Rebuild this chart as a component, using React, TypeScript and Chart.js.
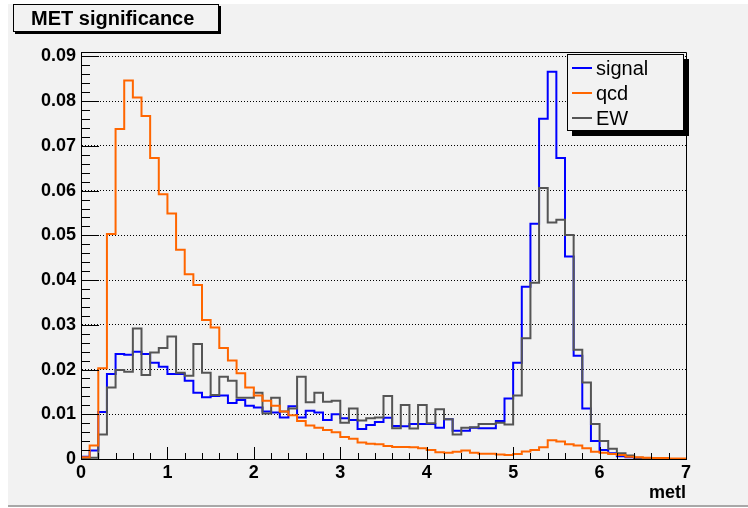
import React, { useEffect, useRef } from 'react';
import { Chart, registerables } from 'chart.js';

Chart.register(...registerables);

const binWidth = 0.1;
const xMin = 0;
const xMax = 7;
const yMax = 0.091;

const signal = [
  0.0005, 0.0019, 0.0105, 0.0190, 0.0235, 0.0233, 0.0240, 0.0235, 0.0215, 0.0206,
  0.0190, 0.0190, 0.0175, 0.0148, 0.0138, 0.0141, 0.0142, 0.0125, 0.0132, 0.0119,
  0.0115, 0.0106, 0.0104, 0.0093, 0.0118, 0.0093, 0.0108, 0.0104, 0.0087, 0.0100,
  0.0091, 0.0087, 0.0067, 0.0076, 0.0083, 0.0092, 0.0074, 0.0073, 0.0078, 0.0078,
  0.0078, 0.0070, 0.0089, 0.0063, 0.0063, 0.0070, 0.0069, 0.0069, 0.0085, 0.0135,
  0.0215, 0.0385, 0.0526, 0.0761, 0.0866, 0.0673, 0.0453, 0.0231, 0.0113, 0.0040,
  0.0020, 0.0013, 0.0006, 0.0004, 0.0002, 0.0001, 0.0001, 0.0000, 0.0000, 0.0000,
];

const qcd = [
  0.0004, 0.0030, 0.0203, 0.0503, 0.0738, 0.0846, 0.0808, 0.0767, 0.0673, 0.0592,
  0.0549, 0.0468, 0.0413, 0.0389, 0.0311, 0.0294, 0.0248, 0.0220, 0.0192, 0.0160,
  0.0142, 0.0130, 0.0119, 0.0106, 0.0098, 0.0085, 0.0075, 0.0070, 0.0065, 0.0060,
  0.0049, 0.0045, 0.0037, 0.0034, 0.0033, 0.0029, 0.0027, 0.0027, 0.0026, 0.0024,
  0.0020, 0.0015, 0.0014, 0.0016, 0.0019, 0.0014, 0.0012, 0.0012, 0.0010, 0.0009,
  0.0011, 0.0017, 0.0020, 0.0026, 0.0042, 0.0039, 0.0033, 0.0030, 0.0024, 0.0016,
  0.0014, 0.0011, 0.0009, 0.0005, 0.0004, 0.0003, 0.0002, 0.0002, 0.0001, 0.0001,
];

const ew = [
  0.0000, 0.0003, 0.0055, 0.0160, 0.0199, 0.0195, 0.0292, 0.0188, 0.0238, 0.0248,
  0.0274, 0.0193, 0.0186, 0.0257, 0.0193, 0.0143, 0.0184, 0.0175, 0.0137, 0.0137,
  0.0148, 0.0102, 0.0137, 0.0106, 0.0113, 0.0184, 0.0127, 0.0148, 0.0128, 0.0130,
  0.0081, 0.0113, 0.0086, 0.0091, 0.0093, 0.0141, 0.0069, 0.0121, 0.0068, 0.0121,
  0.0080, 0.0111, 0.0089, 0.0055, 0.0070, 0.0071, 0.0078, 0.0078, 0.0081, 0.0077,
  0.0142, 0.0270, 0.0394, 0.0606, 0.0529, 0.0535, 0.0501, 0.0244, 0.0171, 0.0078,
  0.0040, 0.0023, 0.0013, 0.0008, 0.0003, 0.0002, 0.0001, 0.0000, 0.0000, 0.0000,
];

const seriesNames = ['signal', 'qcd', 'EW'];
const seriesColors = ['#0000ff', '#ff6600', '#555555'];
const xTickLabels = ['0', '1', '2', '3', '4', '5', '6', '7'];
const yTickLabels = ['0', '0.01', '0.02', '0.03', '0.04', '0.05', '0.06', '0.07', '0.08', '0.09'];
const titleText = 'MET significance';
const xAxisTitle = 'metl';

const FONT = '"Liberation Sans", Arial, Helvetica, sans-serif';
const PANEL = '#f2f2f2';

function toSteps(values: number[]) {
  const pts = values.map((v, i) => ({ x: +(xMin + i * binWidth).toFixed(3), y: v }));
  pts.push({ x: +(xMin + values.length * binWidth).toFixed(3), y: values[values.length - 1] });
  return pts;
}

const rootAxesPlugin = {
  id: 'rootAxes',
  afterDraw(chart: any) {
    const { ctx, chartArea, scales } = chart;
    const { left, right, top, bottom } = chartArea;
    ctx.save();
    ctx.strokeStyle = '#000';
    ctx.lineWidth = 1;
    ctx.beginPath();
    for (let k = 0; k * 0.002 <= yMax + 1e-9; k++) {
      const y = Math.round(scales.y.getPixelForValue(k * 0.002)) + 0.5;
      const len = k % 5 === 0 ? 18 : 9;
      ctx.moveTo(left, y);
      ctx.lineTo(left + len, y);
    }
    for (let k = 0; k * 0.2 <= xMax + 1e-9; k++) {
      const x = Math.round(scales.x.getPixelForValue(k * 0.2)) + 0.5;
      const len = k % 5 === 0 ? 12 : 6;
      ctx.moveTo(x, bottom);
      ctx.lineTo(x, bottom - len);
    }
    ctx.moveTo(left, Math.round(top) + 0.5);
    ctx.lineTo(Math.round(right) + 0.5, Math.round(top) + 0.5);
    ctx.lineTo(Math.round(right) + 0.5, bottom);
    ctx.stroke();
    ctx.restore();
  },
};

export default function App() {
  const canvasRef = useRef<HTMLCanvasElement | null>(null);

  useEffect(() => {
    if (!canvasRef.current) return;
    const series = [signal, qcd, ew];
    const drawOrder = [2, 0, 1];
    const chart = new Chart(canvasRef.current, {
      type: 'line',
      data: {
        datasets: series.map((vals, i) => ({
          label: seriesNames[i],
          data: toSteps(vals),
          borderColor: seriesColors[i],
          backgroundColor: seriesColors[i],
          borderWidth: 2,
          pointRadius: 0,
          fill: false,
          stepped: 'before' as const,
          tension: 0,
          order: drawOrder[i],
        })),
      },
      options: {
        animation: false,
        responsive: false,
        devicePixelRatio: 1,
        layout: { padding: { left: 0, top: 52, right: 62, bottom: 0 } },
        plugins: {
          legend: { display: false },
          tooltip: { enabled: false },
          title: { display: false },
        },
        scales: {
          x: {
            type: 'linear',
            min: xMin,
            max: xMax,
            grid: { display: false, drawTicks: false },
            border: { display: true, color: '#000', width: 1 },
            ticks: {
              stepSize: 1,
              autoSkip: false,
              maxRotation: 0,
              padding: 3,
              color: '#000',
              font: { family: FONT, size: 18, weight: 'bold' },
              callback: (_v: any, index: number) => xTickLabels[index] ?? '',
            },
            title: {
              display: true,
              text: xAxisTitle,
              align: 'end',
              color: '#000',
              font: { family: FONT, size: 18, weight: 'bold' },
              padding: { top: 0, bottom: 4 },
            },
            afterFit: (s: any) => {
              s.height = 49;
            },
          },
          y: {
            type: 'linear',
            min: 0,
            max: yMax,
            grid: { display: true, drawTicks: false, color: '#000', lineWidth: 1 },
            border: { display: true, color: '#000', width: 1, dash: [1, 2] },
            ticks: {
              stepSize: 0.01,
              includeBounds: false,
              autoSkip: false,
              padding: 5,
              color: '#000',
              font: { family: FONT, size: 18, weight: 'bold' },
              callback: (_v: any, index: number) => yTickLabels[index] ?? '',
            },
            afterFit: (s: any) => {
              s.width = 81;
            },
          },
        },
      },
      plugins: [rootAxesPlugin],
    } as any);
    return () => chart.destroy();
  }, []);

  return (
    <div style={{ position: 'fixed', left: 0, top: 0, width: 748, height: 508, background: '#fff', overflow: 'hidden' }}>
      <div
        style={{
          position: 'absolute',
          left: 8,
          top: 4,
          width: 740,
          height: 501,
          background: PANEL,
          borderBottom: '2px solid #a8a8a8',
        }}
      />
      <canvas
        ref={canvasRef}
        width={748}
        height={508}
        style={{ position: 'absolute', left: 0, top: 0, width: 748, height: 508, display: 'block' }}
      />
      <div
        style={{
          position: 'absolute',
          left: 13,
          top: 4,
          width: 206,
          height: 28,
          boxSizing: 'border-box',
          border: '1px solid #000',
          background: PANEL,
          boxShadow: '2px 2px 0 #000',
          fontFamily: FONT,
          fontWeight: 'bold',
          fontSize: 20,
          lineHeight: '26px',
          paddingLeft: 17,
          color: '#000',
          whiteSpace: 'nowrap',
        }}
      >
        {titleText}
      </div>
      <div
        style={{
          position: 'absolute',
          left: 567,
          top: 54,
          width: 117,
          height: 77,
          boxSizing: 'border-box',
          border: '1px solid #000',
          background: PANEL,
          boxShadow: '5px 5px 0 #000',
          fontFamily: FONT,
          fontSize: 20,
          color: '#000',
        }}
      >
        {seriesNames.map((name, i) => (
          <div key={name} style={{ position: 'absolute', left: 0, top: 13 + i * 25 - 12, height: 24, width: 115 }}>
            <div
              style={{
                position: 'absolute',
                left: 4,
                top: 11,
                width: 20,
                height: 2,
                background: seriesColors[i],
              }}
            />
            <div style={{ position: 'absolute', left: 28, top: 0, lineHeight: '24px', whiteSpace: 'nowrap' }}>{name}</div>
          </div>
        ))}
      </div>
    </div>
  );
}
